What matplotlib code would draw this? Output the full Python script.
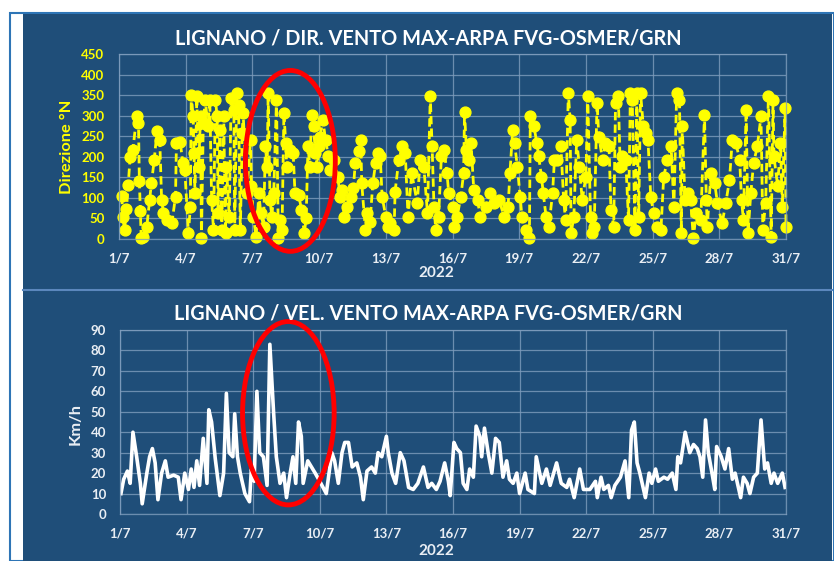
import numpy as np
import matplotlib.pyplot as plt
from matplotlib.patches import Rectangle, Ellipse
from matplotlib.lines import Line2D

# Direzione vento max (ore dall'1/7 00:00, gradi)
dir_ore = [3, 4, 6, 8, 10, 12, 15, 19, 21, 22, 23, 24, 26, 30,
           33, 35, 38, 41, 44, 46, 48, 52, 57, 61, 62, 66, 69,
           71, 75, 77, 78, 80, 81, 82, 84, 86, 88, 89, 91, 93, 96, 98, 100, 102, 104, 106, 107, 109, 111,
           113, 115, 116, 119, 121, 124, 125, 127, 129, 131, 133, 134, 138, 142, 143,
           145, 148, 151, 153, 156, 158, 160, 161, 163, 165, 167, 170, 172, 174, 176, 178, 180, 181, 185,
           188, 190, 194, 197, 200, 202, 204, 206, 208, 210, 212, 214, 216,
           217, 220, 223, 226, 228, 232, 236, 239, 241, 243, 246, 250, 253, 255, 259, 261, 262, 266, 268,
           271, 274, 277, 280, 282, 284, 288, 290,
           293, 297, 298, 302, 306, 309, 312, 316,
           322, 325, 329, 333, 336, 338, 340, 342, 345, 348, 351, 354, 356, 360, 362, 365, 369, 372, 373,
           375, 378, 380, 383, 387, 390, 396, 401, 405, 410, 416, 420, 422, 425, 427, 430, 433, 435, 439,
           443, 444, 448, 451, 453, 456, 458, 461, 464, 468, 470, 473, 477, 480, 482, 485, 487, 488, 491,
           494, 497, 500, 504, 506, 509, 511, 513, 516, 518, 522, 525, 529, 531, 534, 536, 539, 541, 543,
           547, 550, 552, 554, 557, 559, 561, 563, 566, 569, 571, 574, 577, 581, 585, 588, 592, 596, 599,
           602, 605, 607, 608, 611, 614, 617, 620, 623, 628, 632, 634, 635, 639, 643, 646, 651, 655, 659,
           662, 666, 670, 672, 674, 677, 679, 682, 685, 689, 693, 695, 698, 701, 704, 706, 707, 711, 714,
           716, 719, 720]
dir_gradi = [105, 54, 22, 72, 132, 200, 217, 298, 282, 140, 67, 2, 6, 30,
             95, 136, 192, 262, 241, 95, 63, 46, 38, 103, 233, 237, 184,
             168, 14, 79, 351, 298, 209, 111, 347, 176, 298, 2, 282, 339, 274, 339, 95, 22, 339, 298, 63, 266, 22,
             298, 14, 176, 54, 343, 314, 22, 355, 327, 22, 258, 306, 111, 241, 128,
             54, 6, 111, 63, 30, 225, 176, 355, 95, 54, 111, 339, 2, 46, 22, 306, 233, 176, 217,
             209, 111, 107, 71, 14, 50, 225, 176, 302, 274, 209, 176, 225,
             249, 290, 241, 201, 168, 192, 152, 103, 119, 54, 79, 103, 123, 184, 213, 241, 136, 22, 63,
             42, 136, 184, 209, 201, 103, 54, 30,
             38, 22, 115, 192, 225, 209, 54, 160,
             87, 192, 176, 63, 347, 225, 79, 22, 54, 201, 217, 160, 111, 79, 30, 54, 103, 160, 310,
             217, 192, 233, 119, 95, 54, 79, 111, 87, 95, 54, 79, 160, 266, 233, 176, 103, 54, 22,
             2, 298, 274, 233, 201, 152, 111, 54, 30, 111, 192, 192, 225, 95, 46, 355, 290, 14, 54,
             241, 176, 95, 152, 347, 54, 14, 30, 331, 249, 192, 233, 225, 71, 30, 331, 347, 176, 201,
             192, 46, 355, 339, 22, 355, 54, 355, 274, 258, 241, 103, 63, 30, 22, 152, 192, 225, 79,
             355, 339, 14, 274, 95, 111, 95, 2, 63, 46, 302, 95, 30, 160, 136, 87, 38, 87, 144,
             241, 233, 192, 95, 46, 314, 14, 111, 184, 225, 298, 22, 87, 347, 6, 339, 201, 128, 233,
             79, 318, 30]

# Velocita' vento max (ore dall'1/7 00:00, km/h)
vel_ore = [1, 4, 8, 11, 14, 18, 22, 24, 29, 32, 35, 38, 41, 45, 49, 52, 58, 63, 66, 70,
           74, 77, 80, 83, 86, 90, 94, 96, 99, 103, 108, 112, 115, 118, 122, 124, 127, 130, 135, 140,
           142, 145, 148, 151, 155, 159, 162, 166, 169, 173, 177, 180, 184, 187, 190, 193, 196, 198,
           203, 207, 211, 216, 223, 229, 232, 236, 240, 243, 247, 251, 256, 260, 263, 267, 272, 276,
           279, 283, 288, 290, 294, 298, 303, 307, 312, 317, 322, 328, 333, 337, 342, 346, 351, 355,
           357, 361, 364, 368, 371, 375, 378, 382, 385, 389, 391, 394, 398, 402, 406, 410, 414, 418,
           421, 425, 429, 432, 438, 441, 448, 450, 456, 461, 465, 472, 477, 483, 486, 491, 497, 501,
           508, 514, 516, 520, 523, 528, 531, 535, 541, 546, 550, 553, 556, 559, 562, 568, 572, 575,
           579, 582, 588, 592, 597, 601, 603, 606, 611, 616, 620, 624, 627, 630, 633, 636, 640, 643,
           645, 650, 654, 658, 662, 665, 671, 674, 678, 681, 685, 689, 693, 697, 700, 704, 707, 711,
           716, 719]
vel_kmh = [10, 17, 21, 15, 40, 28, 15, 5, 20, 28, 32, 25, 7, 20, 26, 18, 19, 18, 7, 20,
           12, 22, 13, 26, 14, 37, 15, 51, 45, 27, 9, 20, 59, 30, 28, 49, 28, 20, 10, 6,
           22, 16, 60, 30, 28, 14, 83, 50, 28, 15, 20, 8, 20, 28, 15, 45, 38, 15,
           26, 23, 20, 16, 10, 30, 26, 15, 30, 35, 35, 23, 25, 18, 7, 21, 23, 20,
           30, 28, 38, 30, 20, 15, 30, 26, 13, 12, 15, 23, 13, 15, 12, 16, 25, 16,
           9, 35, 32, 30, 15, 12, 22, 18, 43, 38, 28, 42, 30, 20, 37, 35, 18, 26,
           17, 15, 20, 10, 20, 12, 10, 28, 15, 22, 14, 25, 15, 13, 17, 8, 22, 12,
           12, 16, 8, 18, 12, 14, 8, 14, 18, 26, 8, 41, 45, 25, 20, 8, 20, 15,
           22, 16, 18, 17, 20, 12, 28, 25, 40, 30, 34, 32, 28, 18, 46, 30, 20, 12,
           33, 28, 22, 32, 17, 20, 8, 18, 15, 10, 18, 20, 46, 22, 25, 15, 20, 15,
           20, 13]

tick_ore = list(range(0, 721, 72))
tick_giorni = ['1/7', '4/7', '7/7', '10/7', '13/7', '16/7', '19/7', '22/7', '25/7', '28/7', '31/7']

titolo_dir = 'LIGNANO / DIR. VENTO MAX-ARPA FVG-OSMER/GRN'
titolo_vel = 'LIGNANO / VEL. VENTO MAX-ARPA FVG-OSMER/GRN'

BLU = '#1f4e79'
GRIGLIA = '#7f9dbd'
TESTO = '#e9eef4'
GIALLO = '#ffff00'
FONT = 'Lato'

W, H = 834, 561
fig = plt.figure(figsize=(W / 100, H / 100), dpi=100)
fig.patch.set_facecolor('white')

# cornice e sfondo (sotto gli assi)
fig.add_artist(Rectangle((10 / W, 0), (W - 10) / W, (H - 13) / H, transform=fig.transFigure,
                         facecolor='white', edgecolor='#2e75b6', lw=1.5, zorder=-3))
fig.add_artist(Rectangle((23 / W, 0), (832 - 23) / W, (H - 14) / H, transform=fig.transFigure,
                         facecolor=BLU, edgecolor='none', zorder=-2))
fig.add_artist(Line2D([23 / W, 832 / W], [1 - 289.5 / H] * 2, transform=fig.transFigure,
                      color='#5b87bd', lw=1.5, zorder=-1))


def prepara(ax, ymax, ystep, ycol, pad_y):
    ax.set_facecolor(BLU)
    ax.set_xlim(0, 720)
    ax.set_ylim(0, ymax)
    ax.set_xticks(tick_ore)
    ax.set_xticklabels(tick_giorni)
    ax.set_yticks(np.arange(0, ymax + 1, ystep))
    ax.grid(True, color=GRIGLIA, lw=0.9, alpha=0.8)
    ax.set_axisbelow(True)
    for s in ax.spines.values():
        s.set_color(GRIGLIA)
        s.set_linewidth(0.9)
        s.set_alpha(0.8)
    ax.tick_params(length=0, labelsize=9.5)
    ax.tick_params(axis='x', pad=9.5, labelcolor=TESTO)
    ax.tick_params(axis='y', pad=pad_y, labelcolor=ycol)
    for t in ax.get_xticklabels() + ax.get_yticklabels():
        t.set_fontfamily(FONT)
        t.set_fontweight('bold')


# pannello direzione
ax1 = fig.add_axes([119 / W, 1 - 239 / H, 667 / W, 185 / H])
prepara(ax1, 450, 50, GIALLO, 10.5)
ax1.plot(dir_ore, dir_gradi, color=GIALLO, lw=2, ls=(0, (3, 1.5)), marker='o', ms=7.8,
         mec=GIALLO, mfc=GIALLO, clip_on=False)
ax1.add_patch(Ellipse((185, 190), 97, 440, fill=False, edgecolor='#ff0000', lw=3.5, clip_on=False, zorder=5))

# pannello velocita'
ax2 = fig.add_axes([120 / W, 1 - 514 / H, 666 / W, 184 / H])
prepara(ax2, 90, 10, TESTO, 10)
ax2.plot(vel_ore, vel_kmh, color='white', lw=2.6)
ax2.add_patch(Ellipse((182, 49.3), 99, 89.7, fill=False, edgecolor='#ff0000', lw=3.5, clip_on=False, zorder=5))

# testi
fig.text(428 / W, 1 - 38.5 / H, titolo_dir, color='white', fontsize=14.3, fontweight='bold',
         family=FONT, ha='center', va='center')
fig.text(428 / W, 1 - 314 / H, titolo_vel, color='white', fontsize=14.3, fontweight='bold',
         family=FONT, ha='center', va='center')
fig.text(67 / W, 1 - 147 / H, 'Direzione °N', color=GIALLO, fontsize=11.8, fontweight='bold',
         family=FONT, rotation=90, ha='center', va='center')
fig.text(76 / W, 1 - 424 / H, 'Km/h', color=TESTO, fontsize=11.8, fontweight='bold',
         family=FONT, rotation=90, ha='center', va='center')
fig.text(436 / W, 1 - 273 / H, '2022', color=TESTO, fontsize=11, fontweight='bold',
         family=FONT, ha='center', va='center')
fig.text(436 / W, 1 - 551 / H, '2022', color=TESTO, fontsize=11, fontweight='bold',
         family=FONT, ha='center', va='center')

fig.savefig('out.png', dpi=100, facecolor=fig.get_facecolor())
